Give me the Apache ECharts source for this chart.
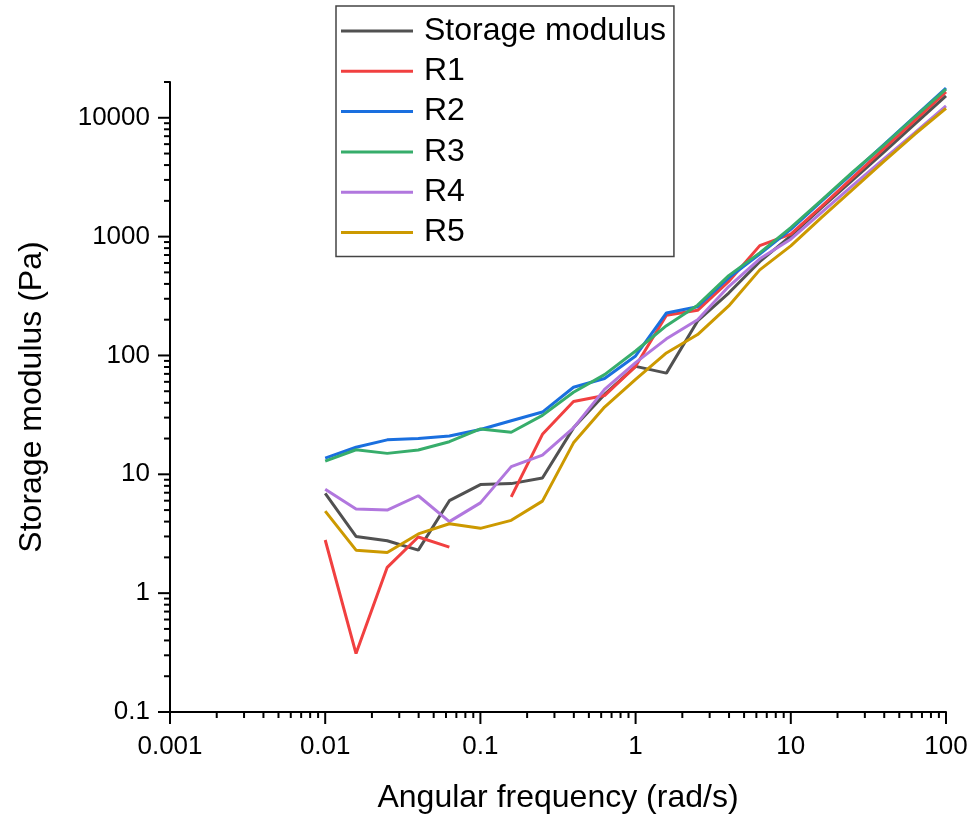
<!DOCTYPE html>
<html>
<head>
<meta charset="utf-8">
<script src="https://cdn.jsdelivr.net/npm/echarts@6/dist/echarts.min.js"></script>
<style>
  html, body { margin: 0; padding: 0; background: #fff; }
  #chart { width: 975px; height: 819px; }
</style>
</head>
<body>
<div id="chart"></div>
<script>
// Angular frequency sweep (rad/s), 5 points per decade
const frequency = [0.01, 0.0158, 0.0251, 0.0398, 0.0631, 0.1, 0.158, 0.251, 0.398, 0.631,
                   1, 1.58, 2.51, 3.98, 6.31, 10, 15.8, 25.1, 39.8, 63.1, 100];

// Storage modulus G' (Pa) for each sample
const storageModulus = [6.9, 3.0, 2.76, 2.3, 6.0, 8.2, 8.35, 9.3, 24.6, 47, 81, 71, 195, 335, 615, 1015, 1750, 3000, 5150, 8900, 15300];
const r1 = [2.8, 0.31, 1.65, 2.97, 2.44, null, 6.45, 21.7, 41, 46, 81, 218, 240, 420, 840, 1050, 1800, 3150, 5500, 9500, 16500];
const r2 = [13.7, 16.9, 19.5, 20.0, 21.0, 23.8, 28.2, 33.4, 54, 64, 99, 228, 257, 450, 712, 1150, 1990, 3440, 5950, 10300, 17800];
const r3 = [12.9, 16.1, 15.0, 16.0, 18.8, 24.1, 22.6, 31.3, 49, 69, 109, 178, 265, 470, 730, 1190, 2030, 3500, 5900, 10200, 17400];
const r4 = [7.5, 5.1, 5.0, 6.6, 4.0, 5.75, 11.6, 14.5, 24.6, 51.8, 87, 138, 200, 380, 650, 951, 1600, 2700, 4500, 7500, 12600];
const r5 = [4.9, 2.3, 2.2, 3.15, 3.84, 3.51, 4.1, 5.95, 18.4, 36.8, 63, 105, 150, 261, 525, 836, 1450, 2500, 4300, 7300, 12000];

const seriesNames = ['Storage modulus', 'R1', 'R2', 'R3', 'R4', 'R5'];
const seriesValues = [storageModulus, r1, r2, r3, r4, r5];
const seriesColors = ['#515151', '#F14040', '#1A6FDF', '#37AD6B', '#B177DE', '#CC9900'];

// Axis ranges and tick labels
const xRange = [0.001, 100];
const yRange = [0.1, 20000];
const xTickLabels = ['0.001', '0.01', '0.1', '1', '10', '100'];
const yTickLabels = ['0.1', '1', '10', '100', '1000', '10000'];

const FONT = '"Liberation Sans", Arial, sans-serif';

// Major ticks at the labelled decades, minor ticks at 2..9 of each decade
function decadeTicks(labels, maxValue) {
  const major = labels.map(Number);
  const minor = [];
  major.forEach(function (m) {
    for (let d = 2; d <= 9; d++) {
      const v = m * d;
      if (v <= maxValue * 1.0001) minor.push(v);
    }
  });
  return { major: major, minor: minor };
}
const xTicks = decadeTicks(xTickLabels, xRange[1]);
const yTicks = decadeTicks(yTickLabels, yRange[1]);

function tickSeries(axis, values, len) {
  return {
    type: 'custom',
    silent: true,
    clip: false,
    z: 4,
    data: values.map(function (v) { return axis === 'x' ? [v, yRange[0]] : [xRange[0], v]; }),
    renderItem: function (params, api) {
      const p = api.coord([api.value(0), api.value(1)]);
      const shape = axis === 'x'
        ? { x1: p[0], y1: p[1], x2: p[0], y2: p[1] + len }
        : { x1: p[0], y1: p[1], x2: p[0] - len, y2: p[1] };
      return { type: 'line', shape: shape, style: { stroke: '#000', lineWidth: 2 } };
    }
  };
}

function labelFor(list) {
  return function (v) {
    const k = Math.round(Math.log10(v));
    const idx = list.findIndex(function (s) { return Math.round(Math.log10(Number(s))) === k; });
    if (idx < 0) return '';
    return Math.abs(Math.log10(v) - k) < 1e-6 ? list[idx] : '';
  };
}

const lineSeries = seriesNames.map(function (name, i) {
  return {
    name: name,
    type: 'line',
    data: frequency.map(function (f, j) { return [f, seriesValues[i][j]]; }),
    connectNulls: false,
    showSymbol: false,
    symbol: 'none',
    lineStyle: { width: 3, color: seriesColors[i] },
    itemStyle: { color: seriesColors[i] },
    z: 2 + i * 0.01
  };
});

const chart = echarts.init(document.getElementById('chart'));
chart.setOption({
  animation: false,
  backgroundColor: '#fff',
  textStyle: { fontFamily: FONT },
  grid: { left: 170, right: 29, top: 82, bottom: 106, containLabel: false },
  legend: {
    data: seriesNames,
    orient: 'vertical',
    left: 336,
    top: 6,
    padding: [8, 8, 7, 5],
    icon: 'rect',
    itemWidth: 72,
    itemHeight: 3,
    itemGap: 6.3,
    borderColor: '#444',
    borderWidth: 1.5,
    textStyle: { fontSize: 32, lineHeight: 34, color: '#000', fontFamily: FONT, padding: [0, 0, 0, 6] }
  },
  xAxis: {
    type: 'log',
    logBase: 10,
    min: xRange[0],
    max: xRange[1],
    name: 'Angular frequency (rad/s)',
    nameLocation: 'middle',
    nameGap: 70,
    nameTextStyle: { fontSize: 32, color: '#000', fontFamily: FONT },
    axisLine: { onZero: false, lineStyle: { color: '#000', width: 2 } },
    axisTick: { show: false },
    minorTick: { show: false },
    splitLine: { show: false },
    axisLabel: {
      fontSize: 26, color: '#000', margin: 22, fontFamily: FONT,
      formatter: labelFor(xTickLabels), showMinLabel: true, showMaxLabel: true
    }
  },
  yAxis: {
    type: 'log',
    logBase: 10,
    min: yRange[0],
    max: yRange[1],
    name: 'Storage modulus (Pa)',
    nameLocation: 'middle',
    nameGap: 122,
    nameTextStyle: { fontSize: 32, color: '#000', fontFamily: FONT },
    axisLine: { onZero: false, lineStyle: { color: '#000', width: 2 } },
    axisTick: { show: false },
    minorTick: { show: false },
    splitLine: { show: false },
    axisLabel: {
      fontSize: 26, color: '#000', margin: 20, fontFamily: FONT,
      formatter: labelFor(yTickLabels), showMaxLabel: false
    }
  },
  series: lineSeries.concat([
    tickSeries('x', xTicks.major, 12),
    tickSeries('x', xTicks.minor, 6),
    tickSeries('y', yTicks.major, 12),
    tickSeries('y', yTicks.minor, 6)
  ])
});
</script>
</body>
</html>
